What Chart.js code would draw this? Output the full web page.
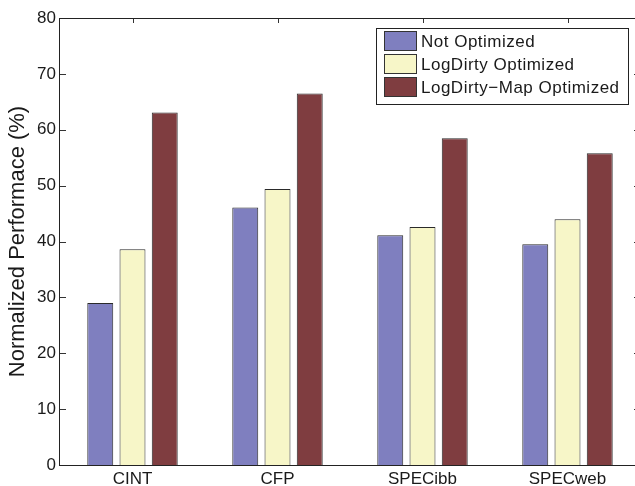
<!DOCTYPE html>
<html>
<head>
<meta charset="utf-8">
<title>Normalized Performance</title>
<script src="https://cdn.jsdelivr.net/npm/chart.js@4.4.1/dist/chart.umd.min.js"></script>
<style>
  html, body { margin: 0; padding: 0; background: #fff; overflow: hidden; }
  #wrap { width: 645px; height: 486px; }
</style>
</head>
<body>
<div id="wrap"><canvas id="perfChart" width="645" height="486"></canvas></div>
<script>
// ---- data ----
const benchmarks = ["CINT", "CFP", "SPECibb", "SPECweb"];
const notOptimized = [29.0, 46.1, 41.1, 39.5];
const logDirtyOptimized = [38.6, 49.4, 42.6, 44.0];
const logDirtyMapOptimized = [63.1, 66.5, 58.5, 55.8];
const seriesNames = ["Not Optimized", "LogDirty Optimized", "LogDirty\u2212Map Optimized"];
const yMin = 0, yMax = 80, yStep = 10;

const FONT = "'Liberation Sans', Arial, Helvetica, sans-serif";
const INK = "#1a1a1a";

// MATLAB style: ticks pointing inwards on all four sides
const innerTicks = {
  id: "innerTicks",
  beforeDatasetsDraw(chart) {
    const { ctx, chartArea: a, scales: { x, y } } = chart;
    ctx.save();
    ctx.strokeStyle = "#333";
    ctx.lineWidth = 1;
    ctx.beginPath();
    y.ticks.forEach((t, i) => {
      const py = Math.round(y.getPixelForTick(i)) + 0.5;
      ctx.moveTo(a.left, py); ctx.lineTo(a.left + 6, py);
      ctx.moveTo(a.right, py); ctx.lineTo(a.right - 6, py);
    });
    x.ticks.forEach((t, i) => {
      const px = Math.round(x.getPixelForTick(i)) + 0.5;
      ctx.moveTo(px, a.top); ctx.lineTo(px, a.top + 5);
      ctx.moveTo(px, a.bottom); ctx.lineTo(px, a.bottom - 5);
    });
    ctx.stroke();
    ctx.restore();
  },
  afterDatasetsDraw(chart) {
    const { ctx, chartArea: a } = chart;
    ctx.save();
    ctx.strokeStyle = "#222";
    ctx.lineWidth = 1;
    ctx.strokeRect(Math.round(a.left) - 0.5, Math.round(a.top) + 0.5,
                   Math.round(a.width) + 1, Math.round(a.height));
    ctx.restore();
  }
};

// legend box inside the plot, top right
const boxLegend = {
  id: "boxLegend",
  afterDraw(chart) {
    const { ctx, chartArea: a } = chart;
    const sets = chart.data.datasets;
    ctx.save();
    ctx.font = "17px " + FONT;
    ctx.letterSpacing = "0.5px";
    const textW = Math.max(...sets.map(d => ctx.measureText(d.label).width));
    const rowH = 23, sw = 33, swH = 20;
    const w = Math.round(8 + sw + 4 + textW + 8);
    const h = 3 + rowH * sets.length + 4;
    const right = Math.round(a.right) - 12;
    const left = right - w;
    const top = Math.round(a.top) + 10;
    ctx.fillStyle = "#fff";
    ctx.fillRect(left, top, w, h);
    ctx.strokeStyle = "#222";
    ctx.lineWidth = 1;
    ctx.strokeRect(left + 0.5, top + 0.5, w, h);
    sets.forEach((d, i) => {
      const sy = top + 3 + i * rowH;
      ctx.fillStyle = d.backgroundColor;
      ctx.fillRect(left + 8, sy, sw, swH);
      ctx.strokeStyle = "#333";
      ctx.strokeRect(left + 8.5, sy + 0.5, sw - 1, swH - 1);
      ctx.fillStyle = INK;
      ctx.textBaseline = "middle";
      ctx.textAlign = "left";
      ctx.fillText(d.label, left + 45, sy + swH / 2 + 1);
    });
    ctx.restore();
  }
};

const ctx = document.getElementById("perfChart").getContext("2d");

new Chart(ctx, {
  type: "bar",
  data: {
    labels: benchmarks,
    datasets: [
      {
        label: seriesNames[0],
        data: notOptimized,
        backgroundColor: "#7f7fbf",
        borderColor: "#2a2a2a",
        borderWidth: 1
      },
      {
        label: seriesNames[1],
        data: logDirtyOptimized,
        backgroundColor: "#f7f6c8",
        borderColor: "#2a2a2a",
        borderWidth: 1
      },
      {
        label: seriesNames[2],
        data: logDirtyMapOptimized,
        backgroundColor: "#7f3d40",
        borderColor: "#2a2a2a",
        borderWidth: 1
      }
    ]
  },
  options: {
    responsive: false,
    animation: false,
    categoryPercentage: 0.667,
    barPercentage: 0.805,
    layout: { padding: { top: 18, right: 5, left: 0, bottom: 0 } },
    plugins: {
      legend: { display: false },
      tooltip: { enabled: false }
    },
    scales: {
      x: {
        offset: true,
        grid: { display: false, drawTicks: false },
        border: { display: false },
        ticks: {
          color: INK,
          padding: 4,
          font: { family: FONT, size: 17 }
        },
        afterFit(scale) { scale.height = 21; }
      },
      y: {
        min: yMin,
        max: yMax,
        grid: { display: false, drawTicks: false },
        border: { display: false },
        ticks: {
          stepSize: yStep,
          color: INK,
          padding: 4,
          font: { family: FONT, size: 17 }
        },
        title: {
          display: true,
          text: "Normalized Performace (%)",
          color: INK,
          font: { family: FONT, size: 22 },
          padding: { top: 5, bottom: 0 }
        },
        afterFit(scale) { scale.width = 60; }
      }
    }
  },
  plugins: [innerTicks, boxLegend]
});
</script>
</body>
</html>
